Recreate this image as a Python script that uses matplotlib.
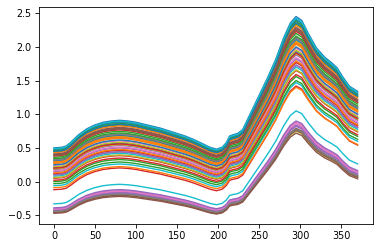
import numpy as np
import matplotlib
matplotlib.use('Agg')
import matplotlib.pyplot as plt

# common spectral profile (0 at x=0, 1 at main peak)
shape_x = [0, 10, 15, 20, 30, 40, 50, 60, 70, 80, 90, 100, 110, 120, 130, 140,
           150, 160, 170, 180, 190, 198, 205, 210, 214, 218, 224, 230, 240, 250,
           260, 270, 280, 288, 295, 302, 310, 320, 330, 338, 345, 352, 360, 370]
shape_y = [0.0, 0.005, 0.015, 0.04, 0.10, 0.145, 0.175, 0.195, 0.205, 0.21, 0.205,
           0.195, 0.18, 0.165, 0.15, 0.13, 0.11, 0.09, 0.065, 0.035, 0.005, -0.01,
           0.005, 0.04, 0.09, 0.10, 0.11, 0.14, 0.27, 0.40, 0.53, 0.67, 0.84, 0.95,
           1.0, 0.97, 0.87, 0.76, 0.69, 0.65, 0.61, 0.54, 0.47, 0.43]

# value of each curve at x=0 and at the main peak (x~295)
start = [0.50, 0.27, 0.36, 0.05, 0.15, 0.40, 0.12, 0.10, 0.30, 0.47,
         0.31, 0.28, 0.44, -0.12, -0.42, -0.44, -0.40, -0.45, -0.46, -0.33,
         0.21, 0.43, 0.00, 0.38, 0.18, 0.41, 0.24, 0.33, 0.22, 0.08,
         0.48, 0.29, 0.34, 0.02, -0.43, -0.46, -0.41, -0.44, 0.06, -0.06,
         0.25, -0.09, 0.46, 0.12, 0.10, 0.39, 0.16, 0.32, 0.19, 0.49,
         0.45, 0.13, -0.03, 0.20, -0.39, -0.47]
peak = [2.45, 2.04, 2.20, 1.65, 1.82, 2.27, 1.77, 1.73, 2.09, 2.39,
        2.11, 2.06, 2.34, 1.42, 0.84, 0.79, 0.88, 0.77, 0.75, 1.05,
        1.93, 2.32, 1.56, 2.23, 1.88, 2.29, 1.98, 2.14, 1.95, 1.70,
        2.41, 2.07, 2.16, 1.59, 0.82, 0.76, 0.86, 0.78, 1.66, 1.47,
        2.00, 1.40, 2.38, 1.77, 1.73, 2.25, 1.84, 2.13, 1.90, 2.43,
        2.36, 1.79, 1.50, 1.91, 0.90, 0.72]

fig = plt.figure(figsize=(3.8, 2.48), dpi=100)
ax = fig.add_axes([0.102, 0.097, 0.879, 0.876])

sx = np.array(shape_x)
sy = np.array(shape_y)
for s, p in zip(start, peak):
    ax.plot(sx, s + (p - s) * sy, lw=1.0)

ax.set_xticks([0, 50, 100, 150, 200, 250, 300, 350])
ax.set_yticks([-0.5, 0.0, 0.5, 1.0, 1.5, 2.0, 2.5])
ax.tick_params(labelsize=6.9, length=2.6, width=0.6, pad=2.5)
for sp in ax.spines.values():
    sp.set_linewidth(0.6)

plt.savefig('out.png', dpi=100)
